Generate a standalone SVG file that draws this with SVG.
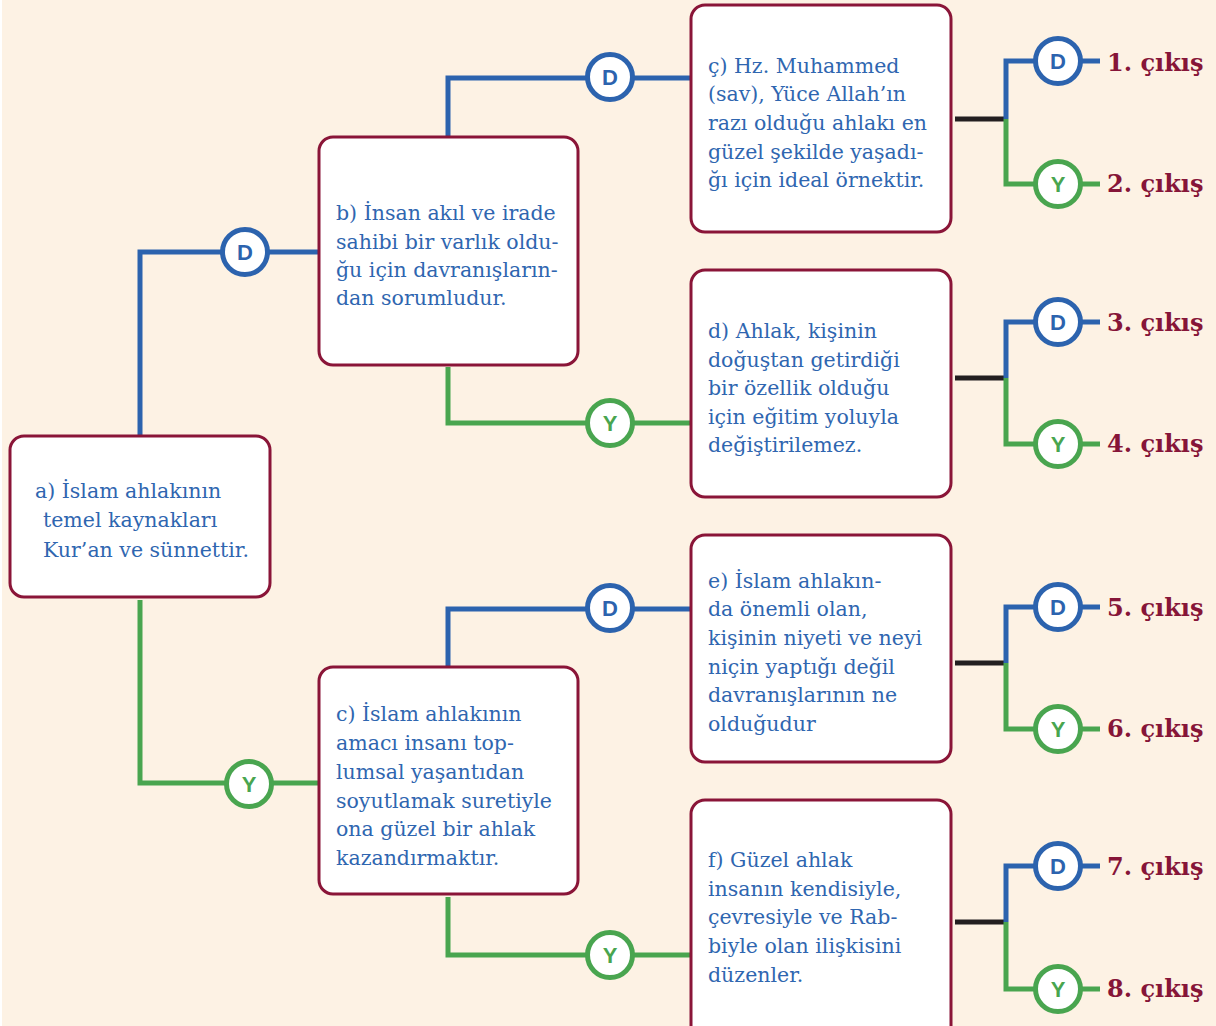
<svg xmlns="http://www.w3.org/2000/svg" width="1216" height="1026" viewBox="0 0 1216 1026">
<style>
.box{fill:#fff;stroke:#8A1538;stroke-width:3}
.t{font-family:"DejaVu Serif","Liberation Serif",serif;font-size:20.5px;fill:#2F66B0}
.out{font-family:"DejaVu Serif","Liberation Serif",serif;font-size:24px;font-weight:bold;fill:#861538}
.bl{fill:none;stroke:#2C63AE;stroke-width:5}
.gr{fill:none;stroke:#49A54F;stroke-width:5}
.bk{fill:none;stroke:#231F20;stroke-width:5}
.cb{fill:#fff;stroke:#2C63AE;stroke-width:5}
.cg{fill:#fff;stroke:#49A54F;stroke-width:5}
.lb{font-family:"Liberation Sans",Arial,sans-serif;font-size:22px;font-weight:bold;fill:#2C63AE;text-anchor:middle}
.lg{font-family:"Liberation Sans",Arial,sans-serif;font-size:22px;font-weight:bold;fill:#49A54F;text-anchor:middle}
</style>
<rect x="0" y="0" width="1216" height="1026" fill="#ffffff"/>
<rect x="2" y="0" width="1214" height="1026" fill="#FDF2E4"/>
<g id="connectors">
<path class="bl" d="M140 436V252H319"/>
<path class="gr" d="M140 600V783H319"/>
<path class="bl" d="M448 137V78H691"/>
<path class="gr" d="M448 367V423H691"/>
<path class="bl" d="M448 667V609H691"/>
<path class="gr" d="M448 897V955H691"/>
<path class="bk" d="M955 119H1006"/>
<path class="bl" d="M1006 119V61H1035M1081 61H1100"/>
<path class="gr" d="M1006 119V184H1035M1081 184H1100"/>
<path class="bk" d="M955 378H1006"/>
<path class="bl" d="M1006 378V322H1035M1081 322H1100"/>
<path class="gr" d="M1006 378V444H1035M1081 444H1100"/>
<path class="bk" d="M955 663H1006"/>
<path class="bl" d="M1006 663V607H1035M1081 607H1100"/>
<path class="gr" d="M1006 663V729H1035M1081 729H1100"/>
<path class="bk" d="M955 922H1006"/>
<path class="bl" d="M1006 922V866H1035M1081 866H1100"/>
<path class="gr" d="M1006 922V989H1035M1081 989H1100"/>
</g>
<g id="decisions">
<circle class="cb" cx="245" cy="252" r="22.5"/><text class="lb" x="245" y="260">D</text>
<circle class="cg" cx="249" cy="784" r="22.5"/><text class="lg" x="249" y="792">Y</text>
<circle class="cb" cx="610" cy="77" r="22.5"/><text class="lb" x="610" y="85">D</text>
<circle class="cg" cx="610" cy="423" r="22.5"/><text class="lg" x="610" y="431">Y</text>
<circle class="cb" cx="610" cy="608" r="22.5"/><text class="lb" x="610" y="616">D</text>
<circle class="cg" cx="610" cy="955" r="22.5"/><text class="lg" x="610" y="963">Y</text>
<circle class="cb" cx="1058" cy="61" r="22.5"/><text class="lb" x="1058" y="69">D</text>
<circle class="cg" cx="1058" cy="184" r="22.5"/><text class="lg" x="1058" y="192">Y</text>
<circle class="cb" cx="1058" cy="322" r="22.5"/><text class="lb" x="1058" y="330">D</text>
<circle class="cg" cx="1058" cy="444" r="22.5"/><text class="lg" x="1058" y="452">Y</text>
<circle class="cb" cx="1058" cy="607" r="22.5"/><text class="lb" x="1058" y="615">D</text>
<circle class="cg" cx="1058" cy="729" r="22.5"/><text class="lg" x="1058" y="737">Y</text>
<circle class="cb" cx="1058" cy="866" r="22.5"/><text class="lb" x="1058" y="874">D</text>
<circle class="cg" cx="1058" cy="989" r="22.5"/><text class="lg" x="1058" y="997">Y</text>
</g>
<g id="node-a">
<rect class="box" x="10" y="436" width="260" height="161" rx="14"/>
<text class="t"><tspan x="35" y="498">a) İslam ahlakının</tspan><tspan x="43" y="527">temel kaynakları</tspan><tspan x="43" y="557">Kur’an ve sünnettir.</tspan></text>
</g>
<g id="node-b">
<rect class="box" x="319" y="137" width="259" height="228" rx="14"/>
<text class="t"><tspan x="336" y="220">b) İnsan akıl ve irade</tspan><tspan x="336" y="249">sahibi bir varlık oldu-</tspan><tspan x="336" y="277">ğu için davranışların-</tspan><tspan x="336" y="305">dan sorumludur.</tspan></text>
</g>
<g id="node-c">
<rect class="box" x="319" y="667" width="259" height="227" rx="14"/>
<text class="t"><tspan x="336" y="721">c) İslam ahlakının</tspan><tspan x="336" y="750">amacı insanı top-</tspan><tspan x="336" y="779">lumsal yaşantıdan</tspan><tspan x="336" y="808">soyutlamak suretiyle</tspan><tspan x="336" y="836">ona güzel bir ahlak</tspan><tspan x="336" y="865">kazandırmaktır.</tspan></text>
</g>
<g id="node-cc">
<rect class="box" x="691" y="5" width="260" height="227" rx="14"/>
<text class="t"><tspan x="708" y="73">ç) Hz. Muhammed</tspan><tspan x="708" y="101">(sav), Yüce Allah’ın</tspan><tspan x="708" y="130">razı olduğu ahlakı en</tspan><tspan x="708" y="159">güzel şekilde yaşadı-</tspan><tspan x="708" y="187">ğı için ideal örnektir.</tspan></text>
</g>
<g id="node-d">
<rect class="box" x="691" y="270" width="260" height="227" rx="14"/>
<text class="t"><tspan x="708" y="338">d) Ahlak, kişinin</tspan><tspan x="708" y="367">doğuştan getirdiği</tspan><tspan x="708" y="395">bir özellik olduğu</tspan><tspan x="708" y="424">için eğitim yoluyla</tspan><tspan x="708" y="452">değiştirilemez.</tspan></text>
</g>
<g id="node-e">
<rect class="box" x="691" y="535" width="260" height="227" rx="14"/>
<text class="t"><tspan x="708" y="588">e) İslam ahlakın-</tspan><tspan x="708" y="616">da önemli olan,</tspan><tspan x="708" y="645">kişinin niyeti ve neyi</tspan><tspan x="708" y="674">niçin yaptığı değil</tspan><tspan x="708" y="702">davranışlarının ne</tspan><tspan x="708" y="731">olduğudur</tspan></text>
</g>
<g id="node-f">
<rect class="box" x="691" y="800" width="260" height="240" rx="14"/>
<text class="t"><tspan x="708" y="867">f) Güzel ahlak</tspan><tspan x="708" y="896">insanın kendisiyle,</tspan><tspan x="708" y="924">çevresiyle ve Rab-</tspan><tspan x="708" y="953">biyle olan ilişkisini</tspan><tspan x="708" y="982">düzenler.</tspan></text>
</g>
<g id="outputs">
<text class="out" x="1107" y="71">1. çıkış</text>
<text class="out" x="1107" y="192">2. çıkış</text>
<text class="out" x="1107" y="331">3. çıkış</text>
<text class="out" x="1107" y="452">4. çıkış</text>
<text class="out" x="1107" y="616">5. çıkış</text>
<text class="out" x="1107" y="737">6. çıkış</text>
<text class="out" x="1107" y="875">7. çıkış</text>
<text class="out" x="1107" y="997">8. çıkış</text>
</g>
</svg>
